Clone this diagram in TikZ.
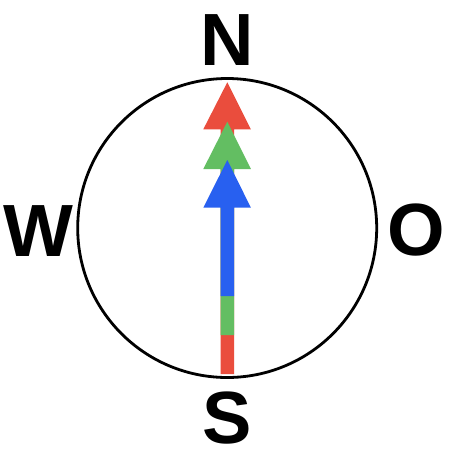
\documentclass[tikz,border=0pt]{standalone}
\usepackage{fontspec}
\setmainfont{Liberation Sans}
\definecolor{cred}{RGB}{234,77,61}
\definecolor{cgreen}{RGB}{99,190,98}
\definecolor{cblue}{RGB}{40,96,240}
\begin{document}
\begin{tikzpicture}[x=1pt,y=-1pt,
  lab/.style={anchor=base,inner sep=0pt,font=\fontsize{74}{74}\selectfont\bfseries},
  ring/.style={draw=black,line width=2.8pt}]
\useasboundingbox (0,0) rectangle (455,456);
\fill[white] (0,0) rectangle (455,456);
\coordinate (c) at (227.2,228);
\draw[ring] (c) circle[radius=149.5];
% red arrow
\fill[cred] (220.6,374) -- (220.6,129.3) -- (203.3,129.3) -- (227.3,82.3) -- (250.9,129.3) -- (234,129.3) -- (234,374) -- cycle;
% green arrow
\fill[cgreen] (220.6,335) -- (220.6,169) -- (203.3,169) -- (227.3,121.7) -- (250.9,169) -- (234,169) -- (234,335) -- cycle;
% blue arrow
\fill[cblue] (220.6,296) -- (220.6,207.7) -- (203.3,207.7) -- (227.3,160) -- (250.9,207.7) -- (234,207.7) -- (234,296) -- cycle;
\node[lab] (N) at (227.5,65.7) {N};
\node[lab] (W) at (38.7,256.7) {W};
\node[lab] (O) at (416.5,255.2) {O};
\node[lab] (S) at (227,443.5) {S};
\end{tikzpicture}
\end{document}
